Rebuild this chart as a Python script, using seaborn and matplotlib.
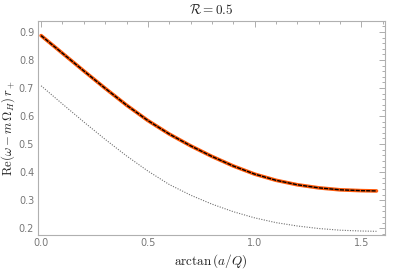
import matplotlib
matplotlib.use("Agg")
from matplotlib import pyplot as plt
from matplotlib.ticker import MultipleLocator, FormatStrFormatter
import seaborn as sns
import pandas as pd

# arctan(a/Q) grid and values
theta = [0.0, 0.1, 0.2, 0.3, 0.4, 0.5, 0.6, 0.7, 0.8, 0.9, 1.0,
         1.1, 1.2, 1.3, 1.4, 1.5, 1.5708]
re_main = [0.887, 0.824, 0.761, 0.699, 0.639, 0.584, 0.536, 0.494, 0.456,
           0.422, 0.393, 0.371, 0.355, 0.344, 0.337, 0.334, 0.333]
re_lower = [0.708, 0.643, 0.579, 0.517, 0.458, 0.404, 0.356, 0.318, 0.286,
            0.259, 0.237, 0.220, 0.208, 0.199, 0.193, 0.190, 0.189]

df = pd.DataFrame({"theta": theta, "main": re_main, "lower": re_lower})

sns.set_style("white")
plt.rcParams["mathtext.fontset"] = "cm"
plt.rcParams["font.family"] = ["DejaVu Sans"]

fig = plt.figure(figsize=(4.07, 2.71), dpi=100)
ax = fig.add_axes([0.0926, 0.133, 0.853, 0.7895])

# orange band with black dashed line on top, gray dotted line below
sns.lineplot(data=df, x="theta", y="main", ax=ax, color="#ff5a0a", linewidth=2.6)
sns.lineplot(data=df, x="theta", y="main", ax=ax, color="black", linewidth=1.0,
             linestyle=(0, (3.0, 0.8)))
sns.lineplot(data=df, x="theta", y="lower", ax=ax, color="#707070", linewidth=0.8,
             linestyle=(0, (1.0, 1.3)))

ax.set_xlim(-0.016, 1.61)
ax.set_ylim(0.176, 0.939)
ax.xaxis.set_major_locator(MultipleLocator(0.5))
ax.xaxis.set_minor_locator(MultipleLocator(0.1))
ax.yaxis.set_major_locator(MultipleLocator(0.1))
ax.yaxis.set_minor_locator(MultipleLocator(0.02))
ax.xaxis.set_major_formatter(FormatStrFormatter("%.1f"))
ax.yaxis.set_major_formatter(FormatStrFormatter("%.1f"))

ax.tick_params(which="both", direction="in", top=True, right=True,
               color="#a0a0a0", labelcolor="#777777", labelsize=7, width=0.6)
ax.tick_params(which="major", length=4, pad=2.5)
ax.tick_params(which="minor", length=2)
for s in ax.spines.values():
    s.set_color("#b0b0b0")
    s.set_linewidth(0.8)

ax.set_title(r"$\mathcal{R} = 0.5$", fontsize=9.5, pad=5)
ax.set_xlabel(r"$\mathrm{arctan}\,(a/Q)$", fontsize=9.5, labelpad=3)
ax.set_ylabel(r"$\mathrm{Re}(\omega - m\,\Omega_H)\,r_+$", fontsize=9.2, labelpad=1)

fig.savefig("out.png", dpi=100)
